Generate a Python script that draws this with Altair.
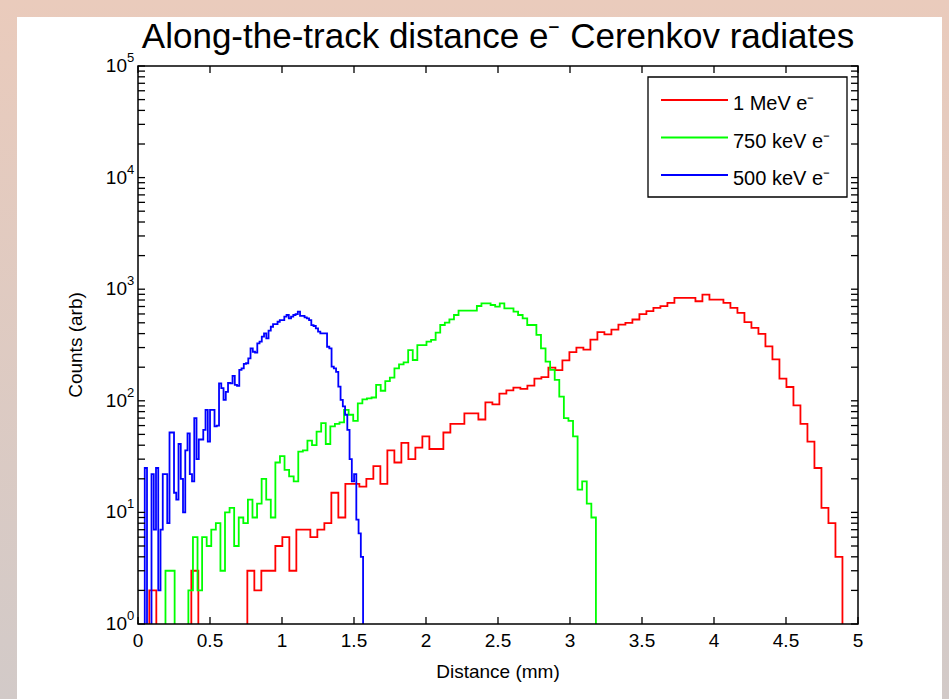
import altair as alt
import pandas as pd

# ---------------- data ----------------
series_names = ["1 MeV e\u207b", "750 keV e\u207b", "500 keV e\u207b"]
series_colors = ["#ff0000", "#00ff00", "#0000ff"]

# histogram bin layout (start, bin width in mm), 100 bins each
red_start, red_width = 0.03, 0.04862
green_start, green_width = 0.0, 0.0318
blue_start, blue_width = 0.0, 0.01563

red_counts = [0, 2, 0, 0, 0, 0, 0, 3, 0, 0,
              0, 0, 0, 0, 0, 3, 2, 3, 3, 5,
              6, 3, 7, 7, 6, 7, 8, 15, 9, 18,
              18, 17, 20, 26, 18, 36, 28, 42, 30, 38,
              48, 37, 37, 52, 62, 62, 77, 77, 68, 97,
              93, 116, 124, 131, 128, 137, 158, 163, 198, 188,
              230, 273, 299, 288, 354, 412, 393, 435, 482, 500,
              535, 597, 635, 681, 704, 754, 836, 836, 836, 780,
              895, 807, 807, 754, 681, 614, 506, 451, 398, 308,
              235, 158, 133, 91, 62, 43, 25, 11, 8, 4]

green_counts = [0, 0, 0, 0, 0, 0, 3, 3, 0, 0,
                0, 2, 6, 2, 6, 5, 7, 8, 3, 10,
                11, 5, 9, 8, 13, 9, 12, 20, 13, 9,
                28, 32, 24, 21, 19, 35, 36, 44, 40, 53,
                63, 41, 59, 62, 64, 83, 75, 66, 95, 103,
                105, 107, 139, 123, 150, 161, 195, 212, 221, 285,
                232, 316, 316, 339, 351, 408, 478, 501, 537, 587,
                642, 642, 642, 642, 707, 747, 747, 722, 697, 747,
                672, 672, 629, 587, 548, 478, 478, 389, 295, 224,
                189, 154, 109, 70, 66, 48, 16, 19, 12, 9]

blue_counts = [0, 0, 0, 25, 0, 0, 22, 7, 25, 2,
               7, 22, 22, 8, 52, 52, 15, 13, 41, 20,
               10, 36, 51, 22, 19, 70, 30, 45, 45, 55,
               83, 43, 83, 83, 59, 60, 143, 130, 102, 120,
               145, 143, 167, 139, 136, 189, 195, 214, 217, 240,
               295, 275, 270, 327, 339, 376, 402, 363, 425, 461,
               487, 487, 511, 529, 529, 567, 587, 548, 567, 587,
               599, 629, 576, 576, 560, 548, 529, 477, 468, 446,
               416, 402, 402, 402, 305, 295, 202, 195, 182, 134,
               102, 89, 75, 55, 30, 19, 22, 8.6, 6.5, 4]

x_tick_values = [0, 0.5, 1, 1.5, 2, 2.5, 3, 3.5, 4, 4.5, 5]
x_tick_labels = ["0", "0.5", "1", "1.5", "2", "2.5", "3", "3.5", "4", "4.5", "5"]
y_decades = [1, 10, 100, 1000, 10000, 100000]
y_exponents = ["0", "1", "2", "3", "4", "5"]
y_minor_multipliers = [2, 3, 4, 5, 6, 7, 8, 9]

title_text = "Along-the-track distance e\u207b Cerenkov radiates"
x_title = "Distance (mm)"
y_title = "Counts (arb)"

# ---------------- build tables ----------------
FLOOR = 0.3  # empty bins: drawn below the axis floor and clipped
FONT = "Liberation Sans, Arial, Helvetica, sans-serif"
W, H = 720, 558


def step_rows(name, start, width, counts):
    rows = []
    for i, c in enumerate(counts):
        rows.append({"series": name, "x": start + i * width,
                     "y": c if c > 0 else FLOOR, "i": i})
    rows.append({"series": name, "x": start + len(counts) * width,
                 "y": FLOOR, "i": len(counts)})
    return rows


hist_rows = (step_rows(series_names[0], red_start, red_width, red_counts)
             + step_rows(series_names[1], green_start, green_width, green_counts)
             + step_rows(series_names[2], blue_start, blue_width, blue_counts))
hist_df = pd.DataFrame(hist_rows)

xt_df = pd.DataFrame({"v": x_tick_values, "label": x_tick_labels})
y_ticks = y_decades + [m * d for d in y_decades[:-1] for m in y_minor_multipliers]
yt_df = pd.DataFrame({"v": y_ticks})
ylab_df = pd.DataFrame({"v": y_decades, "exp": y_exponents})
legend_df = pd.DataFrame({"series": series_names})
one = pd.DataFrame({"a": [0]})

x_scale = alt.Scale(domain=[0, 5], nice=False, zero=False)
y_scale = alt.Scale(type="log", domain=[1, 100000], nice=False)
color_scale = alt.Scale(domain=series_names, range=series_colors)
legend_y = alt.Scale(type="point", domain=series_names, range=[34, 109], padding=0)

# ---------------- layers ----------------
bg = alt.Chart(one).mark_rect(
    fill=alt.LinearGradient(
        gradient="linear",
        stops=[alt.GradientStop(color="#eacbbc", offset=0),
               alt.GradientStop(color="#d2cac8", offset=1)],
        x1=0, x2=0, y1=0, y2=1)
).encode(x=alt.value(-138), x2=alt.value(811), y=alt.value(-66), y2=alt.value(633))

white = alt.Chart(one).mark_rect(fill="white").encode(
    x=alt.value(-121), x2=alt.value(804), y=alt.value(-49), y2=alt.value(633))

lines = alt.Chart(hist_df).mark_line(
    interpolate="step-after", clip=True, strokeWidth=1.8
).encode(
    x=alt.X("x:Q", scale=x_scale, axis=None),
    y=alt.Y("y:Q", scale=y_scale, axis=None),
    color=alt.Color("series:N", scale=color_scale, legend=None),
    order=alt.Order("i:Q"),
)

frame = alt.Chart(one).mark_rect(fillOpacity=0, stroke="black", strokeWidth=1.5).encode(
    x=alt.value(0), x2=alt.value(W), y=alt.value(0), y2=alt.value(H))

xt_bottom = alt.Chart(xt_df).mark_rule(color="black", strokeWidth=1.3).encode(
    x=alt.X("v:Q", scale=x_scale, axis=None), y=alt.value(H), y2=alt.value(H - 7))
xt_top = alt.Chart(xt_df).mark_rule(color="black", strokeWidth=1.3).encode(
    x=alt.X("v:Q", scale=x_scale, axis=None), y=alt.value(0), y2=alt.value(7))
yt_left = alt.Chart(yt_df).mark_rule(color="black", strokeWidth=1.3).encode(
    y=alt.Y("v:Q", scale=y_scale, axis=None), x=alt.value(0), x2=alt.value(7))
yt_right = alt.Chart(yt_df).mark_rule(color="black", strokeWidth=1.3).encode(
    y=alt.Y("v:Q", scale=y_scale, axis=None), x=alt.value(W), x2=alt.value(W - 7))

xlab = alt.Chart(xt_df).mark_text(
    align="center", baseline="top", font=FONT, fontSize=19, color="black"
).encode(x=alt.X("v:Q", scale=x_scale, axis=None), y=alt.value(H + 8), text="label:N")

xtitle = alt.Chart(one).mark_text(
    text=x_title, align="center", baseline="middle", font=FONT, fontSize=19, color="black"
).encode(x=alt.value(W / 2), y=alt.value(H + 48))

ylab_base = alt.Chart(ylab_df).mark_text(
    text="10", align="right", baseline="middle", font=FONT, fontSize=19, color="black"
).encode(y=alt.Y("v:Q", scale=y_scale, axis=None), x=alt.value(-11))
ylab_exp = alt.Chart(ylab_df).mark_text(
    align="left", baseline="middle", font=FONT, fontSize=13, color="black", dy=-8
).encode(y=alt.Y("v:Q", scale=y_scale, axis=None), x=alt.value(-11), text="exp:N")

ytitle = alt.Chart(one).mark_text(
    text=y_title, angle=270, align="center", baseline="middle",
    font=FONT, fontSize=19, color="black"
).encode(x=alt.value(-62), y=alt.value(H / 2))

title = alt.Chart(one).mark_text(
    text=title_text, align="center", baseline="alphabetic",
    font=FONT, fontSize=35, color="black"
).encode(x=alt.value(W / 2), y=alt.value(-18))

legend_box = alt.Chart(one).mark_rect(fill="white", stroke="black", strokeWidth=1.3).encode(
    x=alt.value(510), x2=alt.value(709), y=alt.value(11), y2=alt.value(131))
legend_lines = alt.Chart(legend_df).mark_rule(strokeWidth=1.8).encode(
    x=alt.value(523), x2=alt.value(590),
    y=alt.Y("series:N", scale=legend_y, axis=None),
    color=alt.Color("series:N", scale=color_scale, legend=None))
legend_text = alt.Chart(legend_df).mark_text(
    align="left", baseline="middle", font=FONT, fontSize=20, color="black", dy=4
).encode(x=alt.value(595), y=alt.Y("series:N", scale=legend_y, axis=None), text="series:N")

chart = alt.layer(
    bg, white, lines, frame, xt_bottom, xt_top, yt_left, yt_right,
    xlab, xtitle, ylab_base, ylab_exp, ytitle, title,
    legend_box, legend_lines, legend_text
).resolve_scale(y="independent").properties(
    width=W, height=H,
    autosize=alt.AutoSizeParams(type="none"),
    padding={"left": 138, "top": 66, "right": 91, "bottom": 75},
).configure(background="#e0cac1").configure_view(strokeWidth=0)

chart.save("out.html", embed_options={"renderer": "svg", "actions": False})
